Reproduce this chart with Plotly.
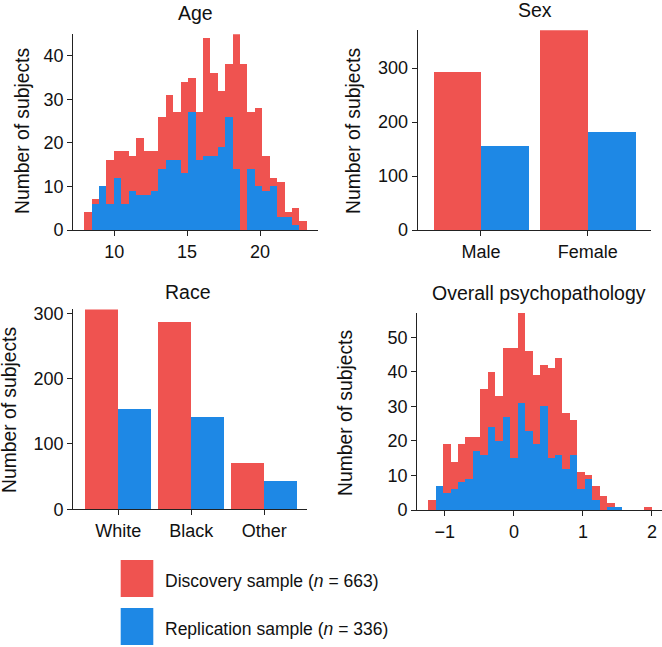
import numpy as np
import plotly.graph_objects as go

# ---------------- data ----------------
RED = "#EF5350"
BLUE = "#1E88E5"

# Age histogram (30 shared bins)
age_bin_start = 7.96
age_bin_end = 23.23
age_discovery = [4, 7, 10, 16, 18, 18, 17, 21, 18, 18, 26, 31, 27, 34, 35,
                 27, 44, 36, 32, 38, 45, 38, 27, 28, 17, 12, 11, 4, 5, 2]
age_replication = [0, 6, 10, 6, 12, 6, 9, 8, 8, 9, 14, 16, 16, 13, 27,
                   16, 17, 17, 19, 26, 14, 0, 14, 10, 9, 10, 3, 3, 1, 0]

# Sex
sex_labels = ["Male", "Female"]
sex_discovery = [293, 370]
sex_replication = [155, 181]

# Race
race_labels = ["White", "Black", "Other"]
race_discovery = [306, 286, 71]
race_replication = [153, 141, 42]

# Overall psychopathology histogram (30 shared bins)
psy_bin_start = -1.237
psy_bin_end = 2.003
psy_discovery = [3, 7, 19, 14, 19, 21, 21, 35, 40, 33, 47, 47, 57, 46, 39,
                 42, 41, 44, 28, 26, 11, 10, 7, 4, 2, 1, 0, 0, 0, 1]
psy_replication = [0, 7, 5, 6, 8, 9, 17, 16, 24, 20, 27, 15, 31, 23, 19,
                   30, 15, 16, 12, 16, 6, 9, 3, 0, 1, 1, 0, 0, 0, 0]

legend_labels = ["Discovery sample (<i>n</i> = 663)",
                 "Replication sample (<i>n</i> = 336)"]

# ---------------- figure ----------------
W, H = 662, 647
FONT = "Liberation Sans, Arial, Helvetica, sans-serif"
TXT = "#111111"


def px(x):
    return x / W


def py(y):
    return 1 - y / H


fig = go.Figure()

# Age
age_edges = np.linspace(age_bin_start, age_bin_end, len(age_discovery) + 1)
age_w = age_edges[1] - age_edges[0]
fig.add_trace(go.Bar(x=age_edges[:-1], y=age_discovery, width=age_w, offset=0,
                     marker=dict(color=RED, line=dict(width=0)),
                     xaxis="x", yaxis="y", showlegend=False))
fig.add_trace(go.Bar(x=age_edges[:-1], y=age_replication, width=age_w, offset=0,
                     marker=dict(color=BLUE, line=dict(width=0)),
                     xaxis="x", yaxis="y", showlegend=False))

# Sex
bw = 0.447
fig.add_trace(go.Bar(x=list(range(len(sex_labels))), y=sex_discovery, width=bw, offset=-bw,
                     marker=dict(color=RED, line=dict(width=0)),
                     xaxis="x2", yaxis="y2", showlegend=False))
fig.add_trace(go.Bar(x=list(range(len(sex_labels))), y=sex_replication, width=bw, offset=0,
                     marker=dict(color=BLUE, line=dict(width=0)),
                     xaxis="x2", yaxis="y2", showlegend=False))

# Race
fig.add_trace(go.Bar(x=list(range(len(race_labels))), y=race_discovery, width=bw, offset=-bw,
                     marker=dict(color=RED, line=dict(width=0)),
                     xaxis="x3", yaxis="y3", showlegend=False))
fig.add_trace(go.Bar(x=list(range(len(race_labels))), y=race_replication, width=bw, offset=0,
                     marker=dict(color=BLUE, line=dict(width=0)),
                     xaxis="x3", yaxis="y3", showlegend=False))

# Psychopathology
psy_edges = np.linspace(psy_bin_start, psy_bin_end, len(psy_discovery) + 1)
psy_w = psy_edges[1] - psy_edges[0]
fig.add_trace(go.Bar(x=psy_edges[:-1], y=psy_discovery, width=psy_w, offset=0,
                     marker=dict(color=RED, line=dict(width=0)),
                     xaxis="x4", yaxis="y4", showlegend=False))
fig.add_trace(go.Bar(x=psy_edges[:-1], y=psy_replication, width=psy_w, offset=0,
                     marker=dict(color=BLUE, line=dict(width=0)),
                     xaxis="x4", yaxis="y4", showlegend=False))

axis_common = dict(showline=True, linecolor="#222222", linewidth=1.3,
                   ticks="outside", ticklen=5, tickwidth=1.3, tickcolor="#222222",
                   showgrid=False, zeroline=False, automargin=False,
                   tickfont=dict(family=FONT, size=18, color=TXT))

fig.update_layout(
    width=W, height=H,
    margin=dict(l=0, r=0, t=0, b=0, pad=0),
    paper_bgcolor="white", plot_bgcolor="white",
    barmode="overlay", bargap=0,
    font=dict(family=FONT, color=TXT),
    xaxis=dict(axis_common, domain=[px(73.3), px(318.3)], range=[7.2, 23.99],
               tickvals=[10, 15, 20], anchor="y"),
    yaxis=dict(axis_common, domain=[py(230), py(34.2)], range=[0, 45],
               tickvals=[0, 10, 20, 30, 40], anchor="x"),
    xaxis2=dict(axis_common, domain=[px(417.7), px(651)], range=[-0.593, 1.593],
                tickvals=list(range(len(sex_labels))), ticktext=sex_labels, anchor="y2"),
    yaxis2=dict(axis_common, domain=[py(230), py(30.2)], range=[0, 370],
                tickvals=[0, 100, 200, 300], anchor="x2"),
    xaxis3=dict(axis_common, domain=[px(73.3), px(306.7)], range=[-0.616, 2.58],
                tickvals=list(range(len(race_labels))), ticktext=race_labels, anchor="y3"),
    yaxis3=dict(axis_common, domain=[py(509.3), py(309.4)], range=[0, 306],
                tickvals=[0, 100, 200, 300], anchor="x3"),
    xaxis4=dict(axis_common, domain=[px(417.3), 1.0], range=[-1.399, 2.145],
                tickvals=[-1, 0, 1, 2], ticktext=["\u22121", "0", "1", "2"], anchor="y4"),
    yaxis4=dict(axis_common, domain=[py(510), py(313)], range=[0, 57],
                tickvals=[0, 10, 20, 30, 40, 50], anchor="x4"),
)

annotations = []
# subplot titles
for text, x, y in [("Age", 195, 13), ("Sex", 535, 10),
                   ("Race", 188, 292), ("Overall psychopathology", 539, 293)]:
    annotations.append(dict(text=text, x=px(x), y=py(y), xref="paper", yref="paper",
                            xanchor="center", yanchor="middle", showarrow=False,
                            font=dict(family=FONT, size=19.5, color=TXT)))
# y axis titles
for x, y in [(22, 131), (353, 131), (9, 410), (345, 413)]:
    annotations.append(dict(text="Number of subjects", x=px(x), y=py(y),
                            xref="paper", yref="paper", textangle=-90,
                            xanchor="center", yanchor="middle", showarrow=False,
                            font=dict(family=FONT, size=19.3, color=TXT)))
# legend
shapes = []
for i, (col, lab) in enumerate(zip([RED, BLUE], legend_labels)):
    y0 = 560 + i * 48
    shapes.append(dict(type="rect", xref="paper", yref="paper",
                       x0=px(120.7), x1=px(153.3), y0=py(y0), y1=py(y0 + 37),
                       fillcolor=col, line=dict(width=0)))
    annotations.append(dict(text=lab, x=px(163), y=py(y0 + 21), xref="paper", yref="paper",
                            xanchor="left", yanchor="middle", showarrow=False,
                            font=dict(family=FONT, size=17.5, color=TXT)))

fig.update_layout(annotations=annotations, shapes=shapes)

fig.write_html("out.html",
               config={"displayModeBar": False},
               post_script="document.body.style.margin='0';document.body.style.overflow='hidden';")
